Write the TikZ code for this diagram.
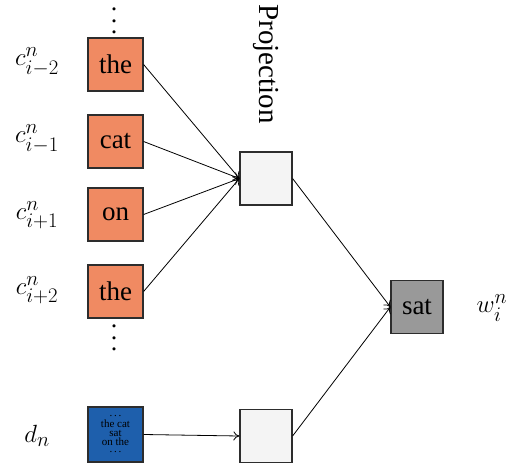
\documentclass[tikz,border=0pt]{standalone}
\usepackage{amsmath}
\usepackage[no-math]{fontspec}
\setmainfont{Liberation Serif}
\usetikzlibrary{arrows.meta}
\definecolor{wordorange}{RGB}{240,138,98}
\definecolor{docblue}{RGB}{30,95,172}
\definecolor{satgray}{RGB}{153,153,153}
\definecolor{projgray}{RGB}{244,244,244}
\definecolor{edgegray}{RGB}{45,45,45}
\newcommand{\stackdots}{\vbox{\baselineskip=11.5pt\lineskiplimit=-50pt\lineskip=0pt\hbox{.}\hbox{.}\hbox{.}}}
\begin{document}
\begin{tikzpicture}[x=1pt,y=-1pt,
  wordbox/.style={draw=edgegray,line width=1.2pt,fill=wordorange,minimum width=55pt,minimum height=53pt,inner sep=0pt,font=\fontsize{27}{32}\selectfont},
  projbox/.style={draw=edgegray,line width=1.2pt,fill=projgray,minimum width=52pt,minimum height=53pt,inner sep=0pt},
  lbl/.style={font=\fontsize{29}{34}\selectfont},
  mlbl/.style={font=\fontsize{31}{36}\selectfont},
  dotcol/.style={inner sep=0pt,font=\fontsize{26}{11.5}\selectfont},
  conn/.style={line width=0.8pt,-{To[length=6pt,width=9pt]}}]
\useasboundingbox (0,0) rectangle (512,464);
% word boxes
\node[wordbox] (w1) at (115.5,64.5) {the};
\node[wordbox] (w2) at (115.5,141.5) {cat};
\node[wordbox] (w3) at (115.5,214.5) {on};
\node[wordbox] (w4) at (115.5,291.5) {the};
\node[wordbox,fill=docblue,font=\fontsize{11}{9}\selectfont,align=center,minimum height=55pt] (d) at (115.5,434.5) {\raisebox{2pt}{.\,.\,.}\\the cat\\sat\\on the\\\raisebox{2pt}{.\,.\,.}};
% dots
\node[dotcol] (dt) at (114,21) {\stackdots};
\node[dotcol] (db) at (114,338) {\stackdots};
% labels
\node[mlbl] (l1) at (37,62) {$c_{i-2}^{n}$};
\node[mlbl] (l2) at (37,139) {$c_{i-1}^{n}$};
\node[mlbl] (l3) at (37,215) {$c_{i+1}^{n}$};
\node[mlbl] (l4) at (37,290) {$c_{i+2}^{n}$};
\node[mlbl] (ld) at (37,436) {$d_n$};
% projection boxes
\node[projbox] (p) at (266,178.5) {};
\node[projbox] (q) at (266,436) {};
\node[lbl,rotate=-90] (ptxt) at (266,64) {Projection};
% output
\node[projbox,fill=satgray,font=\fontsize{27}{32}\selectfont] (s) at (417,307) {sat};
\node[mlbl] (lw) at (492,308) {$w_i^{n}$};
% connectors
\foreach \n in {w1,w2,w3,w4} \draw[conn] (\n.east) -- (p.west);
\draw[conn] (d.east) -- (q.west);
\draw[conn] (p.east) -- (s.west);
\draw[conn] (q.east) -- (s.west);
\end{tikzpicture}
\end{document}
